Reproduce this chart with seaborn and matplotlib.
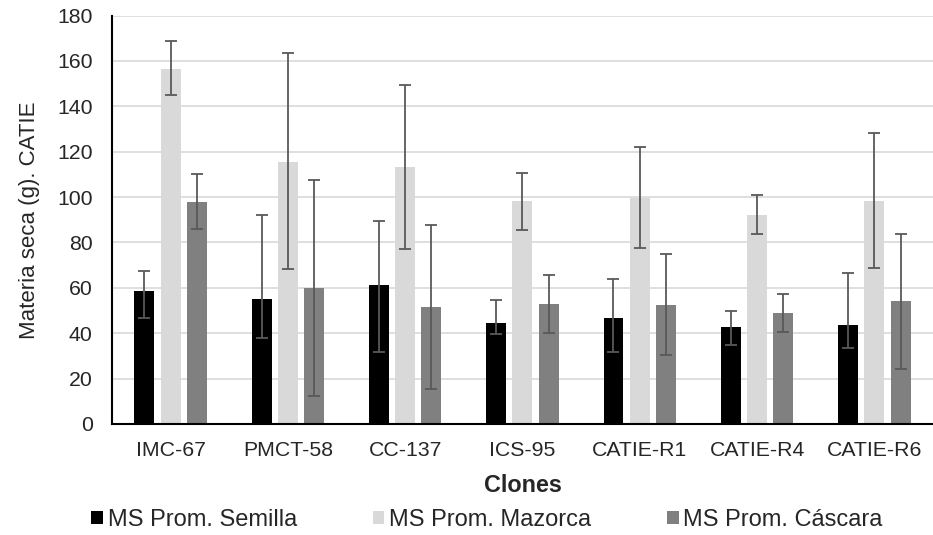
import pandas as pd
import seaborn as sns
import matplotlib.pyplot as plt

# Data
clones = ["IMC-67", "PMCT-58", "CC-137", "ICS-95", "CATIE-R1", "CATIE-R4", "CATIE-R6"]
series = ["MS Prom. Semilla", "MS Prom. Mazorca", "MS Prom. Cáscara"]

semilla = [58.4, 55.1, 61.3, 44.7, 46.6, 42.8, 43.8]
mazorca = [156.6, 115.6, 113.2, 98.1, 99.7, 92.2, 98.2]
cascara = [97.9, 60.0, 51.6, 52.8, 52.6, 49.0, 54.3]

# error bars (upper / lower), read from the caps
semilla_up = [9.2, 36.8, 28.1, 9.8, 17.5, 6.9, 22.9]
semilla_lo = [11.5, 17.3, 29.5, 5.0, 15.0, 7.8, 10.3]
mazorca_up = [12.0, 47.7, 36.0, 12.6, 22.5, 8.9, 29.9]
mazorca_lo = [11.8, 47.4, 36.0, 12.7, 22.1, 8.3, 29.6]
cascara_up = [12.1, 47.6, 35.9, 12.8, 22.2, 8.5, 29.6]
cascara_lo = [11.8, 47.5, 36.0, 12.5, 22.0, 8.6, 29.9]

colors = ["#000000", "#D9D9D9", "#808080"]

df = pd.DataFrame({
    "Clones": clones * 3,
    "Serie": [s for s in series for _ in clones],
    "Valor": semilla + mazorca + cascara,
})
err_up = [semilla_up, mazorca_up, cascara_up]
err_lo = [semilla_lo, mazorca_lo, cascara_lo]

sns.set_style("white")
plt.rcParams["font.family"] = ["Liberation Sans", "DejaVu Sans"]

fig = plt.figure(figsize=(9.33, 5.35), dpi=100)
ax = fig.add_axes([0.12, 0.2075, 0.88, 0.7635])

sns.barplot(
    data=df, x="Clones", y="Valor", hue="Serie",
    order=clones, hue_order=series, palette=colors,
    width=0.672, gap=0.24, errorbar=None, linewidth=0, ax=ax,
)

# custom (asymmetric) error bars on each bar
for cont, up, lo in zip(ax.containers, err_up, err_lo):
    xs = [p.get_x() + p.get_width() / 2 for p in cont.patches]
    ys = [p.get_height() for p in cont.patches]
    ax.errorbar(xs, ys, yerr=[lo, up], fmt="none", ecolor="#595959",
                elinewidth=1.3, capsize=4, capthick=1.3, zorder=4)

ax.set_ylim(0, 180)
ax.set_yticks(range(0, 181, 20))
ax.set_xlim(-0.5, len(clones) - 0.5)
ax.yaxis.grid(True, color="#D9D9D9", linewidth=1.2)
ax.set_axisbelow(True)
for side in ["top", "right"]:
    ax.spines[side].set_visible(False)
for side in ["left", "bottom"]:
    ax.spines[side].set_color("black")
    ax.spines[side].set_linewidth(1.5)
ax.tick_params(axis="y", length=0, pad=14, labelsize=15.3)
ax.tick_params(axis="x", length=0, pad=12, labelsize=15.3)

ax.set_ylabel("Materia seca (g). CATIE", fontsize=16, labelpad=12)
ax.set_xlabel("Clones", fontsize=16.8, fontweight="bold", labelpad=10)

handles, labels = ax.get_legend_handles_labels()
ax.get_legend().remove()
fig.legend(handles, labels, loc="center", bbox_to_anchor=(0.522, 0.028),
           ncol=3, frameon=False, fontsize=17, handlelength=0.5,
           handleheight=0.5, handletextpad=0.2, columnspacing=3.2,
           borderpad=0.2)

plt.savefig("out.png", dpi=100)
plt.close()
